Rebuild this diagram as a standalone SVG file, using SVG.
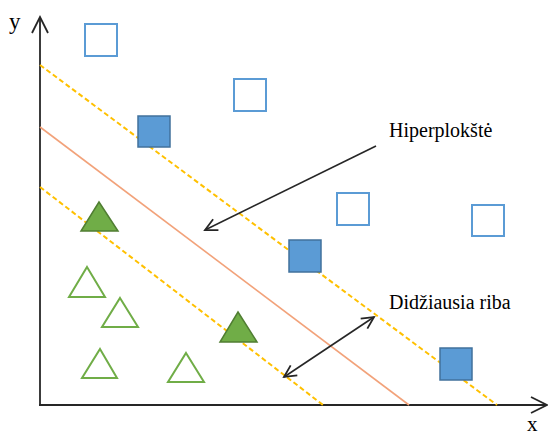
<svg xmlns="http://www.w3.org/2000/svg" width="548" height="437" viewBox="0 0 548 437">
  <style>
    .axis { stroke: #262626; stroke-width: 1.8; fill: none; }
    .margin { stroke: #FFC000; stroke-width: 2; stroke-dasharray: 5 3; fill: none; }
    .hyper { stroke: #F2A27A; stroke-width: 1.6; fill: none; }
    .sq-open { fill: #FFFFFF; stroke: #5B9BD5; stroke-width: 2; }
    .sq-fill { fill: #5B9BD5; stroke: #41719C; stroke-width: 1.5; }
    .tri-open { fill: #FFFFFF; stroke: #70AD47; stroke-width: 2; }
    .tri-fill { fill: #70AD47; stroke: #507E32; stroke-width: 1.5; }
    .conn { stroke: #262626; stroke-width: 1.6; fill: none; }
    .label { font-family: "Liberation Serif", "Times New Roman", serif; fill: #000000; }
  </style>
  <defs>
    <marker id="chev" markerUnits="userSpaceOnUse" markerWidth="16" markerHeight="16" refX="13" refY="8" orient="auto-start-reverse" viewBox="0 0 16 16">
      <path d="M1,2 L13,8 L1,14" fill="none" stroke="#262626" stroke-width="1.8"/>
    </marker>
  </defs>

  <!-- axes -->
  <g id="axes">
    <line class="axis" x1="40" y1="406" x2="40" y2="17"/>
    <polyline class="axis" points="32,33 40,17 48,33"/>
    <line class="axis" x1="39" y1="405" x2="547" y2="405"/>
    <polyline class="axis" points="531,397 547,405 531,413"/>
    <text class="label" x="9" y="29" font-size="23">y</text>
    <text class="label" x="527" y="431" font-size="21">x</text>
  </g>

  <!-- separating hyperplane and its margins -->
  <g id="boundaries">
    <line class="margin" x1="40" y1="65" x2="497" y2="405"/>
    <line class="hyper" x1="40" y1="127" x2="409" y2="405"/>
    <line class="margin" x1="40" y1="187" x2="323" y2="405"/>
  </g>

  <!-- class A: squares -->
  <g id="sq1"><rect class="sq-open" x="85" y="24" width="32" height="32"/></g>
  <g id="sq2"><rect class="sq-open" x="234" y="79" width="32" height="32"/></g>
  <g id="sq3"><rect class="sq-open" x="337" y="193" width="32" height="32"/></g>
  <g id="sq4"><rect class="sq-open" x="472" y="205" width="32" height="31"/></g>
  <g id="sv-sq1"><rect class="sq-fill" x="138" y="116" width="32" height="31"/></g>
  <g id="sv-sq2"><rect class="sq-fill" x="289" y="240" width="32" height="32"/></g>
  <g id="sv-sq3"><rect class="sq-fill" x="440" y="348" width="32" height="32"/></g>

  <!-- class B: triangles -->
  <g id="sv-tri1"><polygon class="tri-fill" points="99,202 118,231 81,231"/></g>
  <g id="sv-tri2"><polygon class="tri-fill" points="238,312 257,342 220,342"/></g>
  <g id="tri1"><polygon class="tri-open" points="87,267 105,297 69,297"/></g>
  <g id="tri2"><polygon class="tri-open" points="120,298 138,327 102,327"/></g>
  <g id="tri3"><polygon class="tri-open" points="100,349 117,378 82,378"/></g>
  <g id="tri4"><polygon class="tri-open" points="186,353 204,382 168,382"/></g>

  <!-- annotation labels -->
  <g id="lbl-hyper"><text class="label" x="389" y="137" font-size="20">Hiperplokštė</text></g>
  <g id="lbl-margin"><text class="label" x="389" y="309" font-size="20">Didžiausia riba</text></g>

  <!-- connectors -->
  <g id="connectors">
    <line class="conn" x1="376" y1="146" x2="205" y2="230" marker-end="url(#chev)"/>
    <line class="conn" x1="284" y1="377" x2="374" y2="317" marker-start="url(#chev)" marker-end="url(#chev)"/>
  </g>
</svg>
